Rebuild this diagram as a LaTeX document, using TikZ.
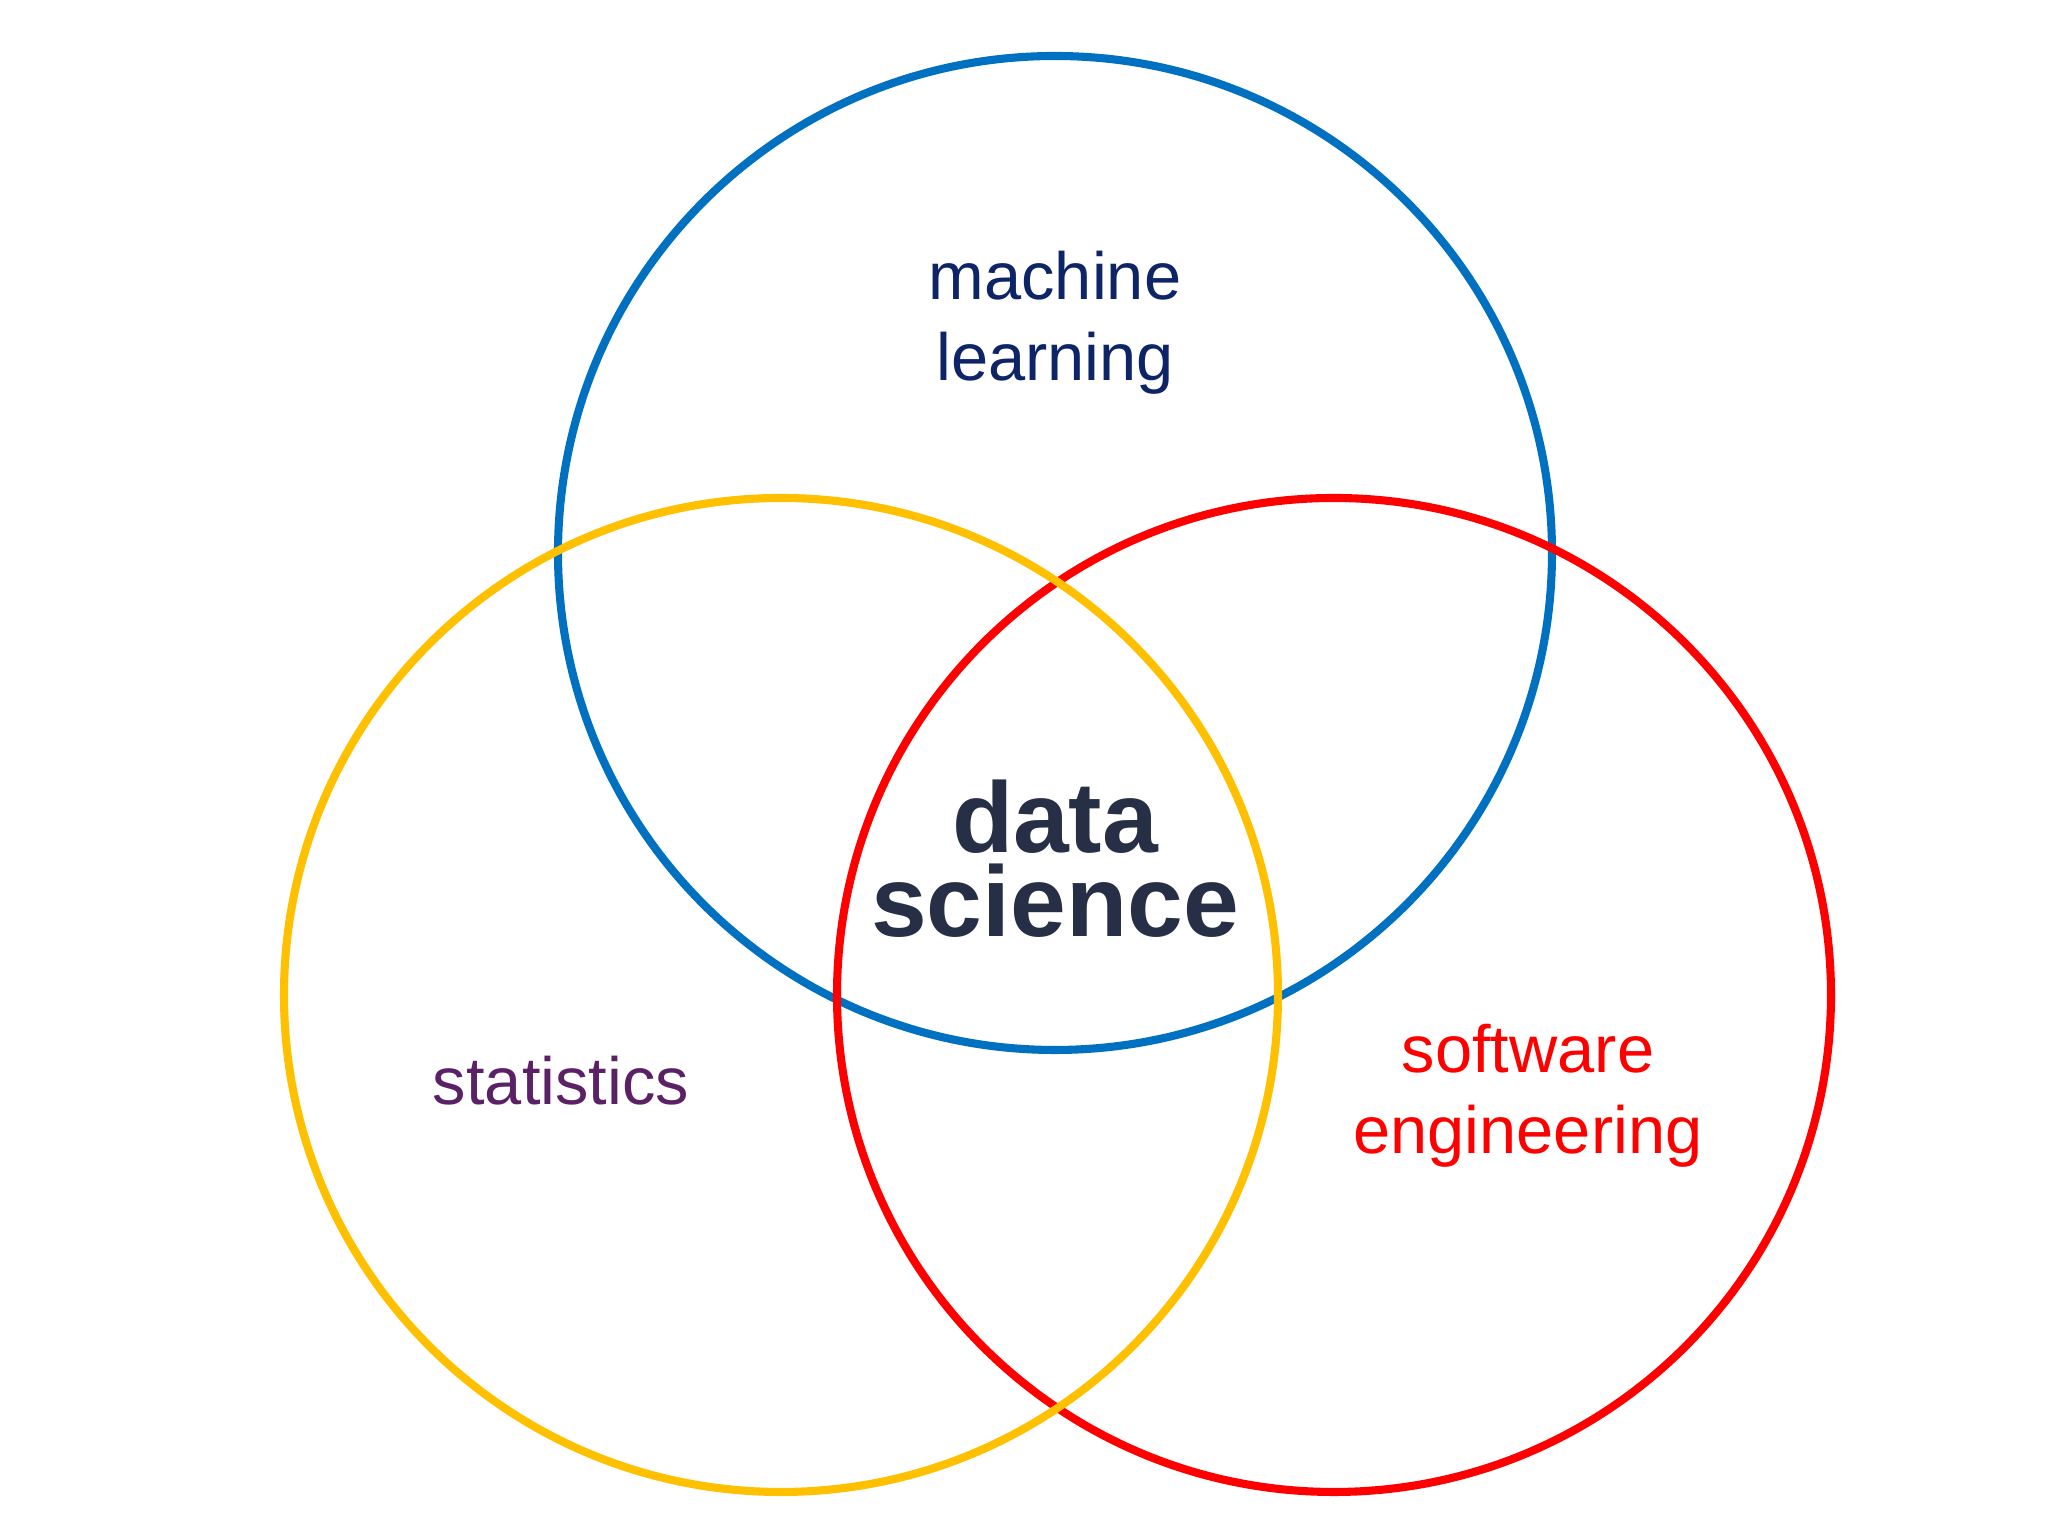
\documentclass[tikz,border=0pt]{standalone}
\usepackage{fontspec}
\setmainfont{Liberation Sans}
\usepackage{tikz}
\usetikzlibrary{positioning}
\definecolor{mlblue}{HTML}{0070C0}
\definecolor{statyellow}{HTML}{FFC000}
\definecolor{swred}{HTML}{FF0000}
\definecolor{mltext}{HTML}{0D2466}
\definecolor{stattext}{HTML}{5B2166}
\definecolor{dstext}{HTML}{262F45}

\begin{document}
\begin{tikzpicture}[every node/.append style={align=center},set/.style={line width=2.3pt},lab/.style={font=\fontsize{19}{23}\selectfont}]
                \useasboundingbox[fill=white] (0,0) rectangle (20.48,15.36);
                \coordinate (ML) at (10.55,9.83);
                \coordinate (ST) at (7.81,5.41);
                \coordinate (SE) at (13.34,5.41);
                \draw[set, mlblue] (ML) circle (4.97);
                \draw[set, swred] (SE) circle (4.97);
                \draw[set, statyellow] (ST) circle (4.97);
                \node [lab, text=mltext] (ml) at (10.55,12.13) {machine\\learning};
                \node [lab, text=stattext] (st) at (5.61,4.55) {statistics};
                \node [lab, text=swred] (se) at (15.28,4.40) {software\\engineering};
                \node [font=\fontsize{28.5}{24}\selectfont\bfseries, text=dstext] (ds) at (10.55,6.77) {data\\science};
            \end{tikzpicture}
\end{document}
